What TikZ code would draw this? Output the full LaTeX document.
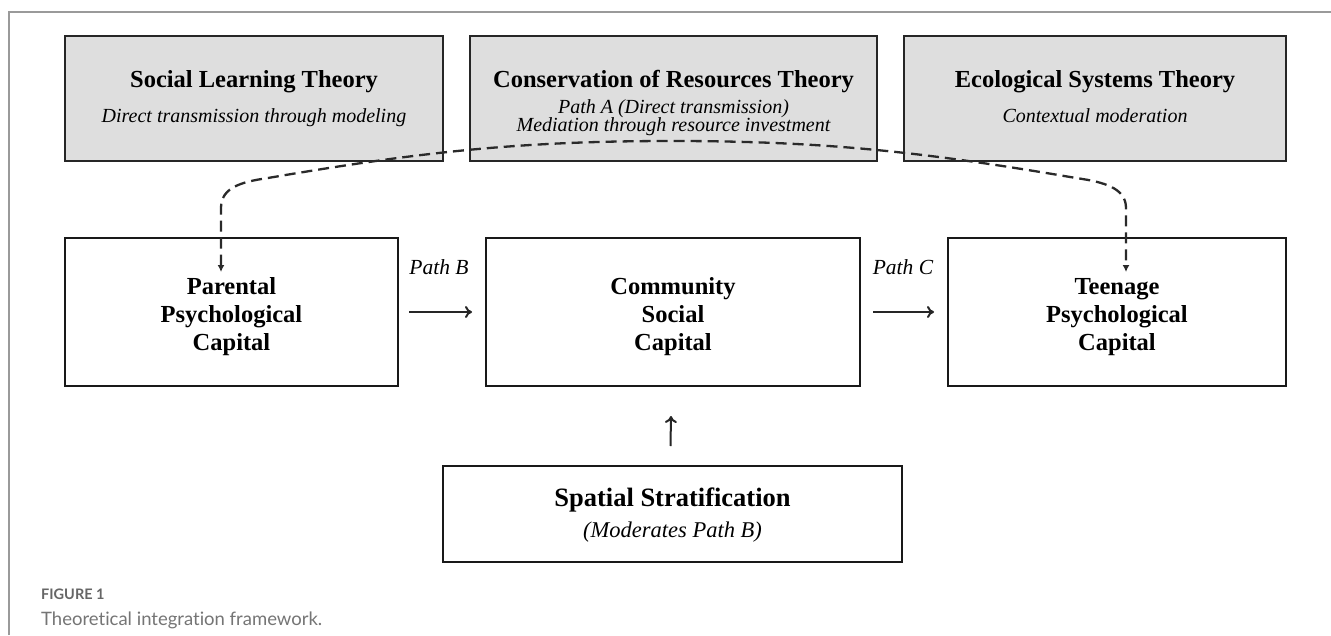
\documentclass[tikz,border=0pt]{standalone}
\usepackage{fontspec}
\setmainfont{Liberation Serif}
\newfontfamily\capfont[Ligatures=NoCommon]{Lato}
\usetikzlibrary{arrows.meta,calc}
\definecolor{thfill}{HTML}{DEDEDE}
\definecolor{framecol}{HTML}{9A9A9A}
\definecolor{capcol}{HTML}{666666}
\definecolor{dashcol}{HTML}{2A2A2A}
\begin{document}
\begin{tikzpicture}[x=1pt,y=-1pt,
  thbox/.style={draw=black!85, line width=2pt, fill=thfill, inner sep=0pt, minimum height=125pt},
  rowbox/.style={draw=black!90, line width=2pt, fill=white, inner sep=0pt},
  ttl/.style={font=\fontsize{24.5}{28}\selectfont\bfseries, anchor=base, inner sep=0pt},
  rowtxt/.style={font=\fontsize{24.5}{28}\selectfont\bfseries, align=center, inner sep=0pt},
  subt/.style={font=\fontsize{20}{24}\selectfont\itshape, anchor=base, inner sep=0pt},
  lbl/.style={font=\fontsize{21.5}{26}\selectfont\itshape, anchor=base, inner sep=0pt},
  arr/.style={line width=2pt, draw=black!85, -{To[length=7pt,width=12pt]}},
  dsh/.style={line width=2.3pt, draw=dashcol, dash pattern=on 11pt off 6pt, {Latex[length=7pt,width=7pt]}-{Latex[length=7pt,width=7pt]}},
]
\useasboundingbox (0,0) rectangle (1331,635);
\fill[white] (0,0) rectangle (1331,635);
\draw[framecol, line width=1.5pt] (9,635) -- (9,12) -- (1331,12);

% theory boxes
\node[thbox, minimum width=378pt] (th1) at (254,98.5) {};
\node[thbox, minimum width=407pt] (th2) at (673.5,98.5) {};
\node[thbox, minimum width=382pt] (th3) at (1095,98.5) {};
\node[ttl] (th1t) at (254,87) {Social Learning Theory};
\node[subt] (th1s) at (254,122.5) {Direct transmission through modeling};
\node[ttl] (th2t) at (673.5,87) {Conservation of Resources Theory};
\node[subt] (th2s) at (673.5,113.5) {Path A (Direct transmission)};
\node[subt] (th2m) at (673.5,131.5) {Mediation through resource investment};
\node[ttl] (th3t) at (1095,87) {Ecological Systems Theory};
\node[subt] (th3s) at (1095,122.5) {Contextual moderation};

% row boxes
\node[rowbox, minimum width=333pt, minimum height=148pt] (r1) at (231.5,312) {};
\node[rowbox, minimum width=374pt, minimum height=148pt] (r2) at (673,312) {};
\node[rowbox, minimum width=338pt, minimum height=148pt] (r3) at (1117,312) {};
\node[rowtxt] (r1t) at (231.5,317) {Parental\\Psychological\\Capital};
\node[rowtxt] (r2t) at (673,317) {Community\\Social\\Capital};
\node[rowtxt] (r3t) at (1117,317) {Teenage\\Psychological\\Capital};

% bottom box
\node[rowbox, minimum width=459pt, minimum height=96pt] (bot) at (672.5,514) {};
\node[font=\fontsize{26.5}{30}\selectfont\bfseries, anchor=base, inner sep=0pt] (bott) at (672.5,506) {Spatial Stratification};
\node[font=\fontsize{22.5}{26}\selectfont\itshape, anchor=base, inner sep=0pt] (bots) at (672.5,537.5) {(Moderates Path B)};

% path labels
\node[lbl] (pb) at (439,274) {Path B};
\node[lbl] (pc) at (903,274) {Path C};

% solid arrows
\draw[arr] ([xshift=10pt]r1.east) -- ([xshift=-13pt]r2.west);
\draw[arr] ([xshift=12pt]r2.east) -- ([xshift=-13pt]r3.west);
\draw[arr] ($(bot.north)+(-2,-19)$) -- ($(r2.south)+(-2,29)$);

% dashed path A
\coordinate (pa1) at ($(r1.north)+(-10.5,35)$);
\coordinate (pa2) at ($(r3.north)+(9,35)$);
\draw[dsh] (pa1) -- (221,208) .. controls (221,188) and (240,182) .. (268,178)
  .. controls (420,152) and (520,141) .. (672,141)
  .. controls (824,141) and (924,152) .. (1076,178)
  .. controls (1104,182) and (1126,188) .. (1126,208) -- (pa2);

% caption
\node[font=\capfont\bfseries\fontsize{14.5}{16}\selectfont, text=capcol, anchor=base west, inner sep=0pt] (figl) at (41,599) {FIGURE 1};
\node[font=\capfont\fontsize{18.5}{21}\selectfont, text=capcol!90, anchor=base west, inner sep=0pt] (figc) at (41,625) {Theoretical integration framework.};
\end{tikzpicture}
\end{document}
